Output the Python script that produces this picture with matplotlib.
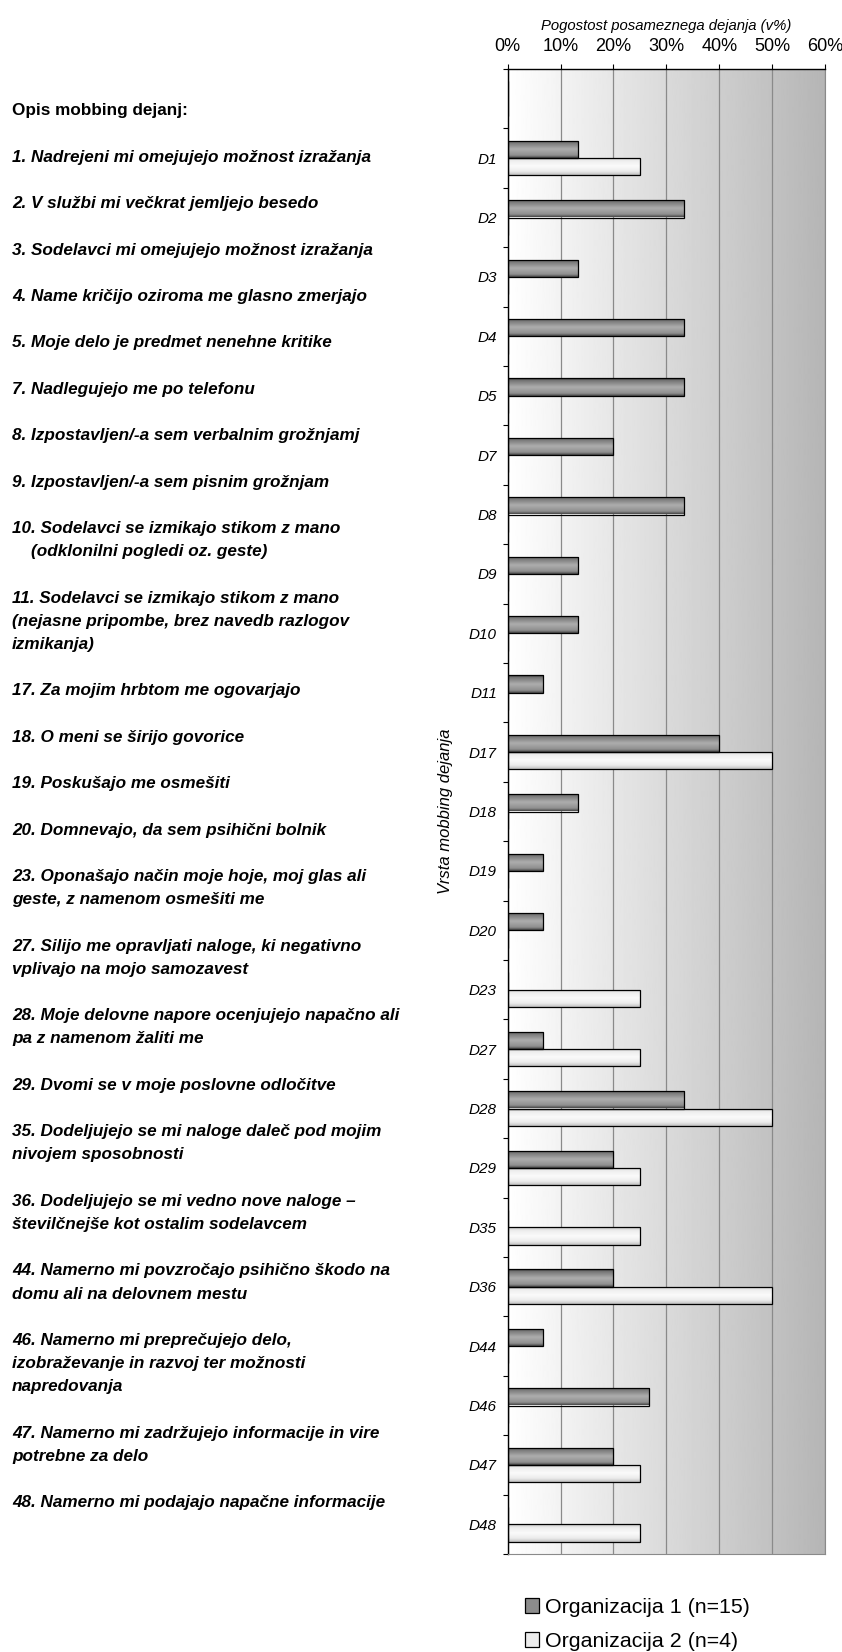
import matplotlib.pyplot as plt
import numpy as np
from matplotlib.patches import Patch

plt.rcParams['font.family'] = ['Liberation Sans', 'DejaVu Sans']

categories = ["", "D1", "D2", "D3", "D4", "D5", "D7", "D8", "D9", "D10", "D11",
              "D17", "D18", "D19", "D20", "D23", "D27", "D28", "D29", "D35",
              "D36", "D44", "D46", "D47", "D48"]
org1 = [0, 13.3, 33.3, 13.3, 33.3, 33.3, 20, 33.3, 13.3, 13.3, 6.7,
        40, 13.3, 6.7, 6.7, 0, 6.7, 33.3, 20, 0,
        20, 6.7, 26.7, 20, 0]
org2 = [0, 25, 0, 0, 0, 0, 0, 0, 0, 0, 0,
        50, 0, 0, 0, 25, 25, 50, 25, 25,
        50, 0, 0, 25, 25]
series_names = ["Organizacija 1 (n=15)", "Organizacija 2 (n=4)"]
x_ticks = [0, 10, 20, 30, 40, 50, 60]

desc_lines = [
    "Opis mobbing dejanj:", "",
    "1. Nadrejeni mi omejujejo možnost izražanja", "",
    "2. V službi mi večkrat jemljejo besedo", "",
    "3. Sodelavci mi omejujejo možnost izražanja", "",
    "4. Name kričijo oziroma me glasno zmerjajo", "",
    "5. Moje delo je predmet nenehne kritike", "",
    "7. Nadlegujejo me po telefonu", "",
    "8. Izpostavljen/-a sem verbalnim grožnjamj", "",
    "9. Izpostavljen/-a sem pisnim grožnjam", "",
    "10. Sodelavci se izmikajo stikom z mano",
    "    (odklonilni pogledi oz. geste)", "",
    "11. Sodelavci se izmikajo stikom z mano",
    "(nejasne pripombe, brez navedb razlogov",
    "izmikanja)", "",
    "17. Za mojim hrbtom me ogovarjajo", "",
    "18. O meni se širijo govorice", "",
    "19. Poskušajo me osmešiti", "",
    "20. Domnevajo, da sem psihični bolnik", "",
    "23. Oponašajo način moje hoje, moj glas ali",
    "geste, z namenom osmešiti me", "",
    "27. Silijo me opravljati naloge, ki negativno",
    "vplivajo na mojo samozavest", "",
    "28. Moje delovne napore ocenjujejo napačno ali",
    "pa z namenom žaliti me", "",
    "29. Dvomi se v moje poslovne odločitve", "",
    "35. Dodeljujejo se mi naloge daleč pod mojim",
    "nivojem sposobnosti", "",
    "36. Dodeljujejo se mi vedno nove naloge –",
    "številčnejše kot ostalim sodelavcem", "",
    "44. Namerno mi povzročajo psihično škodo na",
    "domu ali na delovnem mestu", "",
    "46. Namerno mi preprečujejo delo,",
    "izobraževanje in razvoj ter možnosti",
    "napredovanja", "",
    "47. Namerno mi zadržujejo informacije in vire",
    "potrebne za delo", "",
    "48. Namerno mi podajajo napačne informacije",
]

W, H = 842, 1652
fig = plt.figure(figsize=(W / 100, H / 100), dpi=100)
ax = fig.add_axes([507.7 / W, 98 / H, 317.3 / W, 1485 / H])

y = np.arange(len(categories))
h = 0.29
n = len(categories)

# background gradient
bg = np.linspace(1.0, 0.71, 256).reshape(1, -1)
ax.imshow(bg, extent=[0, 60, n - 0.5, -0.5], aspect='auto', cmap='gray',
          vmin=0, vmax=1, zorder=0, interpolation='bilinear')

b1 = ax.barh(y - h / 2, org1, height=h, facecolor='none', edgecolor='black',
             linewidth=0.9, zorder=3)
b2 = ax.barh(y + h / 2, org2, height=h, facecolor='none', edgecolor='black',
             linewidth=0.9, zorder=3)

t = np.linspace(0, 1, 64)
prof1 = np.interp(t, [0, 0.12, 0.5, 0.85, 1], [0.2, 0.45, 0.68, 0.56, 0.28])
prof2 = np.interp(t, [0, 0.2, 0.5, 0.8, 1], [0.78, 0.93, 0.98, 0.92, 0.75])


def shade(bars, prof):
    for b in bars:
        if b.get_width() <= 0:
            continue
        x0, y0 = b.get_x(), b.get_y()
        im = ax.imshow(prof.reshape(-1, 1),
                       extent=[x0, x0 + b.get_width(), y0 + b.get_height(), y0],
                       aspect='auto', cmap='gray', vmin=0, vmax=1,
                       zorder=2.5, interpolation='bilinear')
        im.set_clip_path(b)


shade(b1, prof1)
shade(b2, prof2)

ax.set_xlim(0, 60)
ax.set_ylim(n - 0.5, -0.5)

ax.xaxis.tick_top()
ax.xaxis.set_label_position('top')
ax.set_xticks(x_ticks)
ax.set_xticklabels([f"{v}%" for v in x_ticks], fontsize=13)
ax.tick_params(axis='x', length=3.8, width=0.8, pad=6.2)
ax.set_xlabel("Pogostost posameznega dejanja (v%)", fontsize=10.7,
              fontstyle='italic', labelpad=6)

ax.set_yticks(y)
ax.set_yticklabels(categories, fontsize=11, fontstyle='italic')
ax.set_yticks(np.arange(-0.5, n, 1), minor=True)
ax.tick_params(axis='y', which='major', length=0, pad=7.7)
ax.tick_params(axis='y', which='minor', length=3.6, width=0.8)
ax.set_ylabel("Vrsta mobbing dejanja", fontsize=12, fontstyle='italic')
ax.yaxis.set_label_coords(-0.172, 0.5)

ax.set_axisbelow(True)
ax.grid(axis='x', color='#8a8a8a', linewidth=0.9)
ax.spines['right'].set_color('#8a8a8a')
ax.spines['bottom'].set_color('#8a8a8a')
ax.spines['left'].set_linewidth(1.0)
ax.spines['top'].set_linewidth(1.0)

for i, line in enumerate(desc_lines):
    if not line:
        continue
    ypix = 111 + i * 23.2
    style = 'normal' if i == 0 else 'italic'
    fig.text(12 / W, 1 - ypix / H, line, fontsize=12.3, fontweight='bold',
             fontstyle=style, va='center')

handles = [Patch(facecolor='#8c8c8c', edgecolor='black', linewidth=0.9),
           Patch(facecolor='#ececec', edgecolor='black', linewidth=0.9)]
fig.legend(handles, series_names, loc='upper left',
           bbox_to_anchor=(525 / W, 1 - 1598 / H), frameon=False,
           fontsize=15.4, handlelength=0.65, handleheight=0.65,
           handletextpad=0.3, labelspacing=0.7, borderpad=0, borderaxespad=0)

fig.savefig("out.png", dpi=100)
